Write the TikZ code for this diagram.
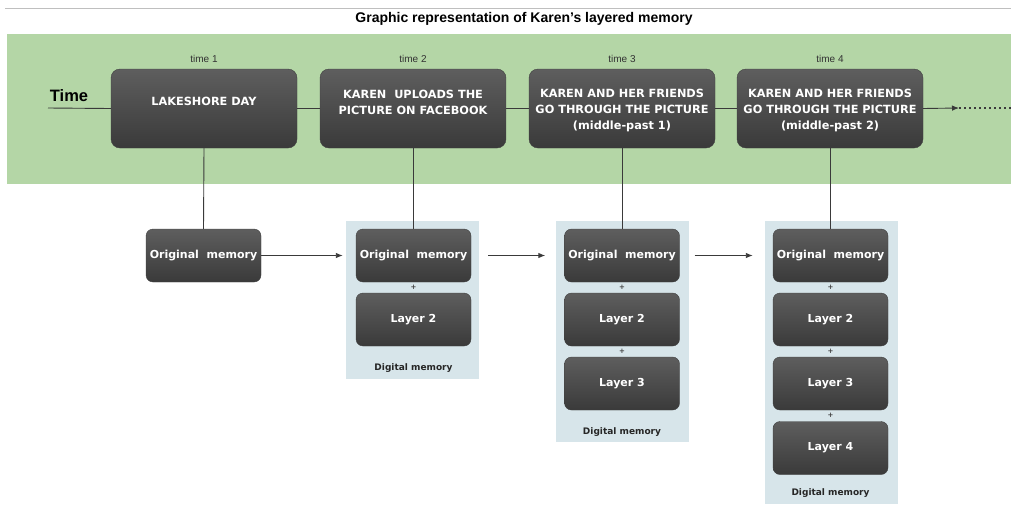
\documentclass[tikz,border=0pt]{standalone}
\usepackage{fontspec}
\setmainfont{Liberation Sans}
\newfontfamily\vfont{DejaVu Sans}
\usetikzlibrary{arrows.meta}
\definecolor{band}{HTML}{B4D6A6}
\definecolor{panelc}{HTML}{D7E5EA}
\definecolor{boxtop}{HTML}{5E5E5E}
\definecolor{boxbot}{HTML}{3A3A3A}
\definecolor{linec}{HTML}{3A3A3A}
\tikzset{
  topbox/.style={rounded corners=9pt, top color=boxtop, bottom color=boxbot, draw=black!75, line width=0.4pt, minimum width=186pt, minimum height=79pt, inner sep=0pt},
  membox/.style={rounded corners=7pt, top color=boxtop, bottom color=boxbot, draw=black!75, line width=0.4pt, minimum width=115pt, minimum height=53pt, inner sep=0pt, text=white, font=\vfont\bfseries\fontsize{11}{13}\selectfont},
  boxtxt/.style={text=white, align=center, inner sep=0pt, font=\vfont\bfseries\fontsize{11.3}{16}\selectfont},
  timelbl/.style={text=black!80, inner sep=0pt, font=\fontsize{10}{12}\selectfont},
  panel/.style={fill=panelc, draw=none, minimum width=133pt, inner sep=0pt},
  diglbl/.style={text=black!85, inner sep=0pt, font=\vfont\bfseries\fontsize{9}{10}\selectfont},
  plus/.style={text=black!75, inner sep=0pt, font=\vfont\bfseries\fontsize{7}{8}\selectfont},
  conn/.style={draw=linec, line width=0.9pt},
  arr/.style={-{Latex[length=7pt,width=5.5pt]}}
}
\begin{document}
\begin{tikzpicture}[x=1pt,y=-1pt]
\useasboundingbox (0,0) rectangle (1011,515);
\fill[white] (0,0) rectangle (1011,515);
\draw[black!25, line width=1.2pt] (5,8.5) -- (1011,8.5);
\node[inner sep=0pt, font=\bfseries\fontsize{14}{16}\selectfont] (title) at (524,19) {Graphic representation of Karen's layered memory};
\fill[band] (7,34) rectangle (1011,184);
\node[inner sep=0pt, font=\bfseries\fontsize{16.5}{18}\selectfont] (timeword) at (69,96) {Time};
\coordinate (tstart) at (48,108);
\coordinate (tarrow) at (959,108);
\coordinate (tend) at (1011,108);
% top boxes
\node[topbox] (b1) at (204,108.5) {};
\node[topbox] (b2) at (413,108.5) {};
\node[topbox] (b3) at (622,108.5) {};
\node[topbox] (b4) at (830,108.5) {};
\node[timelbl] (t1) at (204,59) {time 1};
\node[timelbl] (t2) at (413,59) {time 2};
\node[timelbl] (t3) at (622,59) {time 3};
\node[timelbl] (t4) at (830,59) {time 4};
\node[boxtxt] (b1t) at ([yshift=7pt]b1.center) {LAKESHORE DAY};
\node[boxtxt] (b2t) at ([yshift=6pt]b2.center) {KAREN\ \ UPLOADS THE\\PICTURE ON FACEBOOK};
\node[boxtxt] (b3t) at ([yshift=-2pt]b3.center) {KAREN AND HER FRIENDS\\GO THROUGH THE PICTURE\\(middle-past 1)};
\node[boxtxt] (b4t) at ([yshift=-2pt]b4.center) {KAREN AND HER FRIENDS\\GO THROUGH THE PICTURE\\(middle-past 2)};
% timeline
\draw[conn] (tstart) -- (b1.west);
\draw[conn] (b1.east) -- (b2.west);
\draw[conn] (b2.east) -- (b3.west);
\draw[conn] (b3.east) -- (b4.west);
\draw[conn,arr] (b4.east) -- (tarrow);
\draw[conn, line width=1.6pt, dash pattern=on 1.6pt off 3.4pt] (tarrow) -- (tend);
% panels
\node[panel, minimum height=158pt] (p2) at (412.5,300) {};
\node[panel, minimum height=221pt] (p3) at (622,331.5) {};
\node[panel, minimum height=283pt] (p4) at (831.5,362.5) {};
\node[diglbl] (d2) at (413.5,368) {Digital memory};
\node[diglbl] (d3) at (622,432) {Digital memory};
\node[diglbl] (d4) at (830.5,493) {Digital memory};
% memory boxes
\node[membox] (o1) at (203.5,255.5) {Original\ \ memory};
\node[membox] (o2) at (413.5,255.5) {Original\ \ memory};
\node[membox] (l22) at (413.5,319.5) {Layer 2};
\node[membox] (o3) at (622,255.5) {Original\ \ memory};
\node[membox] (l32) at (622,319.5) {Layer 2};
\node[membox] (l33) at (622,383.5) {Layer 3};
\node[membox] (o4) at (830.5,255.5) {Original\ \ memory};
\node[membox] (l42) at (830.5,319.5) {Layer 2};
\node[membox] (l43) at (830.5,383.5) {Layer 3};
\node[membox] (l44) at (830.5,448) {Layer 4};
% plus signs
\node[plus] (pl21) at (413.5,287.5) {+};
\node[plus] (pl31) at (622,287.5) {+};
\node[plus] (pl32) at (622,351.5) {+};
\node[plus] (pl41) at (830.5,287.5) {+};
\node[plus] (pl42) at (830.5,351.5) {+};
\node[plus] (pl43) at (830.5,415.5) {+};
% vertical links
\draw[conn] (b1.south) -- (o1.north);
\draw[conn] (b2.south) -- (b2.south |- o2.north);
\draw[conn] (b3.south) -- (b3.south |- o3.north);
\draw[conn] (b4.south) -- (b4.south |- o4.north);
% arrows between stages
\draw[conn,arr] (o1.east) -- ([xshift=-3pt]o1.east -| p2.west);
\draw[conn,arr] ([xshift=9pt]o2.east -| p2.east) -- ([xshift=-10pt]o2.east -| p3.west);
\draw[conn,arr] ([xshift=6pt]o3.east -| p3.east) -- ([xshift=-12pt]o3.east -| p4.west);
\end{tikzpicture}
\end{document}
